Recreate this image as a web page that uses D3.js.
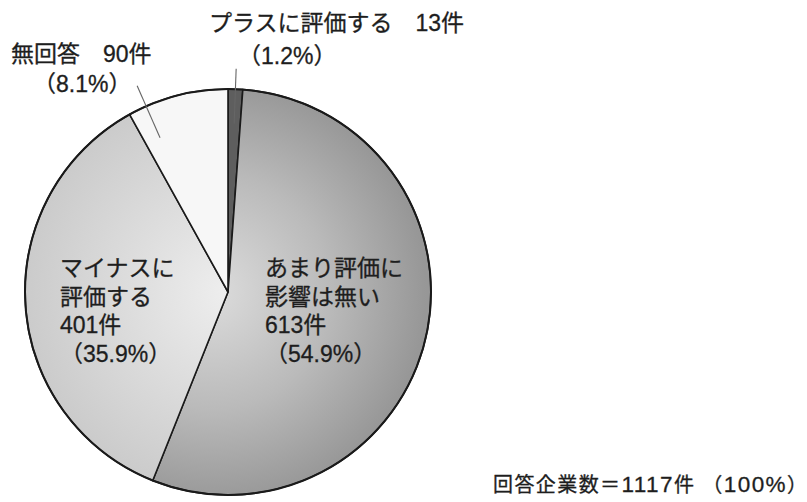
<!DOCTYPE html>
<html lang="ja">
<head>
<meta charset="utf-8">
<script src="https://cdn.jsdelivr.net/npm/d3@7"></script>
<style>
  html, body { margin: 0; padding: 0; background: #fff; }
  svg { display: block; }
  text { font-family: "Liberation Sans", "Noto Sans CJK JP", sans-serif; fill: #1e1e1e; stroke: #1e1e1e; stroke-width: 0.3; }
</style>
</head>
<body>
<svg id="chart" width="807" height="502"></svg>
<script>
// Survey answers, clockwise from 12 o'clock
const categories = ["プラスに評価する", "あまり評価に影響は無い", "マイナスに評価する", "無回答"];
const categoryLines = [["プラスに評価する"], ["あまり評価に", "影響は無い"], ["マイナスに", "評価する"], ["無回答"]];
const counts = [13, 613, 401, 90];
const percents = ["1.2", "54.9", "35.9", "8.1"];
const totalCount = 1117;
const totalParts = ["回答企業数＝", String(totalCount), "件 （", "100%", "）"];

const svg = d3.select("#chart");
const cx = 228, cy = 292, R = 203;

const data = categories.map((c, i) => ({ name: c, lines: categoryLines[i], count: counts[i], pct: percents[i] }));

// Fills: dark sliver, shaded grey, light grey, near white.
// Gradients live in the pie group's coordinates (origin at the centre).
const defs = svg.append("defs");
const g1 = defs.append("radialGradient").attr("id", "gMid")
  .attr("gradientUnits", "userSpaceOnUse").attr("cx", -15).attr("cy", 0).attr("r", R * 1.05);
g1.append("stop").attr("offset", "0%").attr("stop-color", "#dcdcdc");
g1.append("stop").attr("offset", "55%").attr("stop-color", "#bababa");
g1.append("stop").attr("offset", "100%").attr("stop-color", "#979797");
const g2 = defs.append("radialGradient").attr("id", "gLight")
  .attr("gradientUnits", "userSpaceOnUse").attr("cx", 0).attr("cy", 0).attr("r", R);
g2.append("stop").attr("offset", "0%").attr("stop-color", "#eeeeee");
g2.append("stop").attr("offset", "100%").attr("stop-color", "#cbcbcb");
const fills = ["#5e5e5e", "url(#gMid)", "url(#gLight)", "#f7f7f7"];

const pie = d3.pie().value(d => d.count).sort(null);
const arcs = pie(data);
const arc = d3.arc().innerRadius(0).outerRadius(R);

const g = svg.append("g").attr("transform", `translate(${cx},${cy})`);
g.selectAll("path.slice").data(arcs).join("path")
  .attr("class", "slice")
  .attr("d", arc)
  .attr("fill", (d, i) => fills[i])
  .attr("stroke", "#1a1a1a")
  .attr("stroke-width", 1.6)
  .attr("stroke-linejoin", "round");

g.append("circle").attr("r", R).attr("fill", "none").attr("stroke", "#1a1a1a").attr("stroke-width", 2);

// Leader lines for the labels placed outside the circle
function polar(a, r) { return [r * Math.sin(a), -r * Math.cos(a)]; }
const leaders = [
  { i: 0, t: 0.5, r0: 0.83, r1: 1.1 },
  { i: 3, t: 0.18, r0: 0.83, r1: 1.11 }
];
leaders.forEach(l => {
  const a = arcs[l.i];
  const ang = a.startAngle + l.t * (a.endAngle - a.startAngle);
  const p0 = polar(ang, R * l.r0), p1 = polar(ang, R * l.r1);
  g.append("line")
    .attr("x1", p0[0]).attr("y1", p0[1]).attr("x2", p1[0]).attr("y2", p1[1])
    .attr("stroke", "#666").attr("stroke-width", 1.1);
});

// Text labels
const fs = 23, lh = 28.5;
function block(x, y, lines) {
  lines.forEach((s, k) => svg.append("text").attr("font-size", fs)
    .attr("x", x).attr("y", y + k * lh).text(s));
}
const d0 = data[0], d1 = data[1], d2 = data[2], d3_ = data[3];
svg.append("text").attr("font-size", fs).attr("x", 209).attr("y", 31)
  .text(`${d0.lines[0]}　${d0.count}件`);
svg.append("text").attr("font-size", fs).attr("x", 238).attr("y", 64)
  .text(`（${d0.pct}%）`);
svg.append("text").attr("font-size", fs).attr("x", 11).attr("y", 62)
  .text(`${d3_.lines[0]}　${d3_.count}件`);
svg.append("text").attr("font-size", fs).attr("x", 33).attr("y", 92)
  .text(`（${d3_.pct}%）`);
block(265, 276, [...d1.lines, `${d1.count}件`, `（${d1.pct}%）`]);
block(60, 276, [...d2.lines, `${d2.count}件`, `（${d2.pct}%）`]);

// Total respondents, bottom right (figures set a little larger than the kana/kanji)
const foot = svg.append("text").attr("font-size", 20).attr("x", 493).attr("y", 492)
  .attr("textLength", 314).attr("lengthAdjust", "spacing");
totalParts.forEach((s, k) => foot.append("tspan")
  .attr("font-size", k % 2 === 1 ? 22.5 : 20).text(s));
</script>
</body>
</html>
